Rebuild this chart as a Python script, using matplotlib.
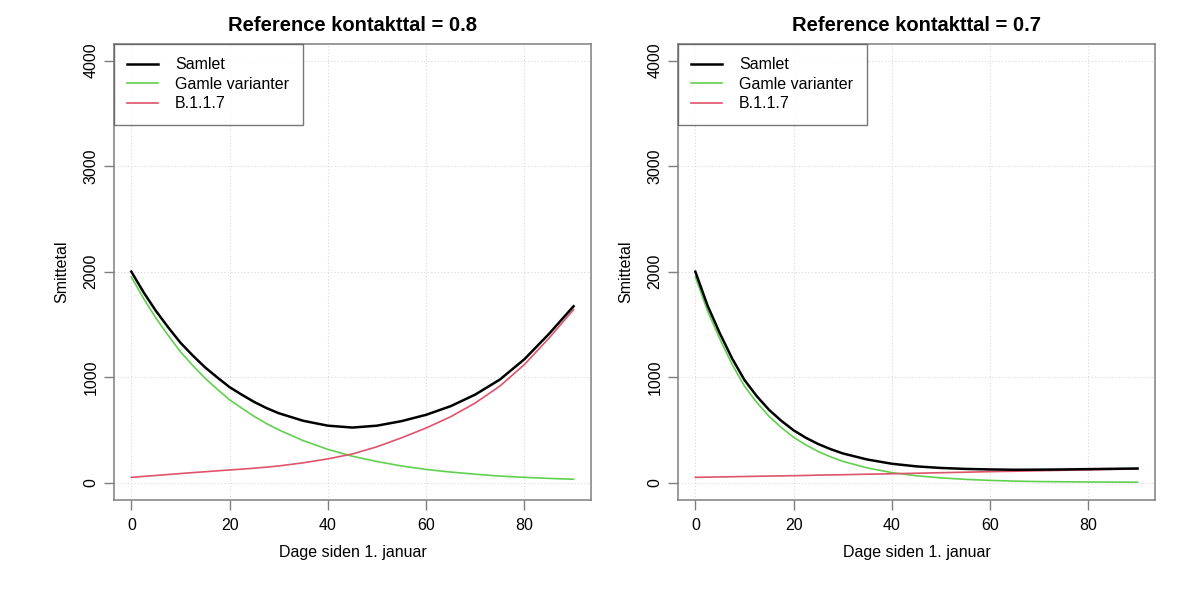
import numpy as np
import matplotlib.pyplot as plt

plt.rcParams['font.family'] = ['Liberation Sans', 'DejaVu Sans']

# dage siden 1. januar
dage = [0, 2.5, 5, 7.5, 10, 12.5, 15, 17.5, 20, 22.5, 25, 27.5, 30,
        35, 40, 45, 50, 55, 60, 65, 70, 75, 80, 85, 90]

# kontakttal 0.8
gamle_08 = [1950, 1745, 1560, 1395, 1240, 1110, 990, 885, 785, 705, 628, 560, 500,
            398, 315, 250, 200, 158, 125, 100, 80, 62, 50, 40, 32]
b117_08 = [50, 59, 68, 77, 86, 95, 103, 112, 120, 128, 137, 147, 158,
           188, 225, 272, 340, 425, 518, 625, 755, 915, 1120, 1370, 1640]
samlet_08 = [2000, 1804, 1628, 1472, 1326, 1205, 1093, 997, 905, 833, 765, 707, 658,
             586, 540, 522, 540, 583, 643, 725, 835, 977, 1170, 1410, 1672]

# kontakttal 0.7
gamle_07 = [1950, 1625, 1360, 1120, 915, 760, 628, 522, 430, 357, 295, 245, 202,
            139, 95, 65, 45, 31, 21, 14, 10, 8, 6, 5, 4]
b117_07 = [50, 52, 54, 56, 58, 60, 62, 64, 66, 68, 71, 73, 75,
           80, 84, 89, 94, 99, 104, 108, 113, 117, 122, 126, 130]
samlet_07 = [2000, 1677, 1414, 1176, 973, 820, 690, 586, 496, 425, 366, 318, 277,
             219, 179, 154, 139, 130, 125, 122, 123, 125, 128, 131, 134]

titles = ["Reference kontakttal = 0.8", "Reference kontakttal = 0.7"]
xticks = [0, 20, 40, 60, 80]
yticks = [0, 1000, 2000, 3000, 4000]

col_samlet = "#000000"
col_gamle = "#61D04F"
col_b117 = "#DF536B"
boxcol = "#7f7f7f"

fig = plt.figure(figsize=(12, 6.04), dpi=100)
ax1 = fig.add_axes([0.0947, 0.1730, 0.398, 0.7545])
ax2 = fig.add_axes([0.5647, 0.1730, 0.398, 0.7545])

data = [(samlet_08, gamle_08, b117_08), (samlet_07, gamle_07, b117_07)]

for ax, title, (s, g, b) in zip([ax1, ax2], titles, data):
    for v in xticks:
        ax.axvline(v, color="#d9d9d9", lw=0.8, ls=(0, (1, 2)), zorder=0)
    for v in yticks:
        ax.axhline(v, color="#d9d9d9", lw=0.8, ls=(0, (1, 2)), zorder=0)
    ax.plot(dage, s, color=col_samlet, lw=1.8, label="Samlet", zorder=4)
    ax.plot(dage, g, color=col_gamle, lw=1.2, label="Gamle varianter", zorder=3)
    ax.plot(dage, b, color=col_b117, lw=1.2, label="B.1.1.7", zorder=3)

    ax.set_xlim(-3.6, 93.6)
    ax.set_ylim(-160, 4160)
    ax.set_xticks(xticks)
    ax.set_yticks(yticks)
    ax.set_yticklabels([str(v) for v in yticks], rotation=90, va="center")
    ax.tick_params(colors=boxcol, labelcolor="black", labelsize=11.5, length=7, width=1)
    ax.tick_params(axis="x", pad=6)
    ax.tick_params(axis="y", pad=4)
    for sp in ax.spines.values():
        sp.set_color(boxcol)
        sp.set_linewidth(1.1)

    ax.set_title(title, fontsize=14.5, fontweight="bold", pad=9)
    ax.set_xlabel("Dage siden 1. januar", fontsize=11.5, labelpad=9)
    ax.set_ylabel("Smittetal", fontsize=11.5, labelpad=10)

    leg = ax.legend(loc="upper left", bbox_to_anchor=(0, 1), borderaxespad=0,
                    fontsize=11.5, frameon=True, fancybox=False, handlelength=1.95,
                    handletextpad=1.05, borderpad=0.85, labelspacing=0.28)
    leg.get_frame().set_edgecolor("#555555")
    leg.get_frame().set_linewidth(1.0)

fig.savefig("out.png", dpi=100)
